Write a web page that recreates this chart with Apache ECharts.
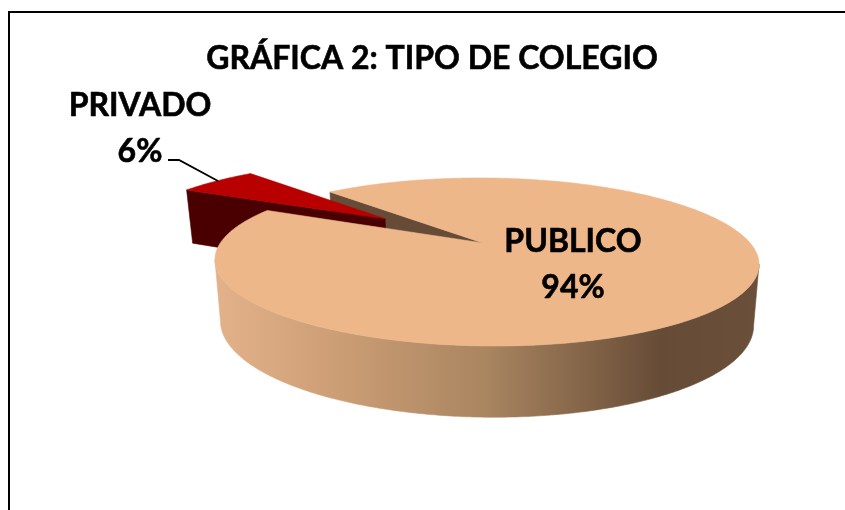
<!DOCTYPE html>
<html>
<head>
<meta charset="utf-8">
<style>html,body{margin:0;padding:0;background:#fff}#c{width:845px;height:510px}</style>
<script src="https://cdn.jsdelivr.net/npm/echarts@6/dist/echarts.min.js"></script>
</head>
<body>
<div id="c"></div>
<script>
const titleText = 'GRÁFICA 2: TIPO DE COLEGIO';
const categories = ['PUBLICO', 'PRIVADO'];
const values = [94, 6];

const FONT = 'Lato, Carlito, "Open Sans", sans-serif';
// Perspective look of the tilted disc
const view = { cx: 487, cy: 243, R: 265, k: 79.7, p: 0.226, shear: 0.009, startDeg: 226.4,
  explode: 0.515, apexShift: -4, depth0: 59, depthK: 41.8, shrink: 0.98,
  wallFrom: 13, wallTo: 167, sliceShift: [2, -1] };
const looks = {
  PUBLICO: { top: '#EEB789', cut: '#664B36', label: [573, 264.5] },
  PRIVADO: { top: '#B80000', cut: '#4A0000', label: [140, 128.5], leader: [[168, 160], [179, 160], [218, 181]] }
};
const sideStops = [
  [0, '#E3B28A'], [0.2, '#CFA077'], [0.5, '#A98560'], [0.82, '#664B36'], [1, '#6A4F3A']
];
const sideGradient = { type: 'linear', x: 215, y: 0, x2: 759, y2: 0, global: true,
  colorStops: sideStops.map(s => ({ offset: s[0], color: s[1] })) };

function project(u, v, lower) {
  const s = 1 / (1 - view.p * v);
  let xr = view.R * u * s;
  const yr = view.k * v * s;
  const y = view.cy + yr + view.shear * xr;
  if (lower) {
    xr *= view.shrink;
    return [view.cx + xr, y + view.depth0 + view.depthK * (s - 1)];
  }
  return [view.cx + xr, y];
}
function arcPts(a0, a1, off, lower) {
  const pts = [];
  const n = Math.max(2, Math.ceil(Math.abs(a1 - a0) * 1.5));
  for (let i = 0; i <= n; i++) {
    const a = (a0 + (a1 - a0) * i / n) * Math.PI / 180;
    pts.push(project(Math.cos(a) + off[0], Math.sin(a) + off[1], lower));
  }
  return pts;
}
const total = values.reduce((a, b) => a + b, 0);

function renderItem(params, api) {
  const idx = params.dataIndex;
  const name = categories[idx];
  const look = looks[name];
  const value = api.value(0);
  let before = 0;
  for (let i = 0; i < idx; i++) before += values[i];
  const a0 = view.startDeg + before / total * 360;
  const a1 = a0 + value / total * 360;
  const mid = (a0 + a1) / 2 * Math.PI / 180;
  const children = [];
  const poly = (points, fill, z2, pos) => children.push({ type: 'polygon', z2, silent: true,
    x: pos ? pos[0] : 0, y: pos ? pos[1] : 0,
    shape: { points }, style: { fill, stroke: fill, lineWidth: 0.6 } });

  if (idx === 0) {
    const apexTop = project(0, 0, false); apexTop[0] += view.apexShift;
    const apexLow = project(0, 0, true); apexLow[0] += view.apexShift;
    const st = arcPts(a0, a0, [0, 0], false)[0];
    const sb = arcPts(a0, a0, [0, 0], true)[0];
    poly([apexTop, st, sb, apexLow], look.cut, 1);
    // outer wall: only the part that faces the viewer
    const upper = arcPts(view.wallFrom, view.wallTo, [0, 0], false);
    const lower = arcPts(view.wallFrom, view.wallTo, [0, 0], true);
    poly(upper.concat(lower.reverse()), sideGradient, 5);
    const rim = arcPts(a0, a1, [0, 0], false);
    poly(rim.concat([apexTop]), look.top, 6);
  } else {
    const off = [Math.cos(mid) * view.explode, Math.sin(mid) * view.explode];
    const tipT = project(off[0], off[1], false);
    const tipB = project(off[0], off[1], true);
    const cT = arcPts(a0, a0, off, false)[0];
    const cB = arcPts(a0, a0, off, true)[0];
    poly([tipT, cT, cB, tipB], look.cut, 2, view.sliceShift);
    poly(arcPts(a0, a1, off, false).concat([tipT]), look.top, 3, view.sliceShift);
    children.push({ type: 'polyline', z2: 8, silent: true, shape: { points: look.leader },
      style: { stroke: '#000', lineWidth: 1.8, fill: null } });
  }
  children.push({ type: 'text', z2: 9, silent: true, style: {
    x: look.label[0], y: look.label[1],
    text: name + '\n' + Math.round(value / total * 100) + '%',
    fill: '#000', font: 'bold 32px ' + FONT, lineHeight: 46,
    stroke: '#000', lineWidth: 0.6,
    align: 'center', verticalAlign: 'middle' } });
  return { type: 'group', children };
}

const chart = echarts.init(document.getElementById('c'), null, { renderer: 'canvas' });
chart.setOption({
  animation: false,
  backgroundColor: '#ffffff',
  title: { text: titleText, left: 427, top: 38, textAlign: 'center',
    textStyle: { color: '#000', fontFamily: FONT, fontWeight: 'bold', fontSize: 32,
      textBorderColor: '#000', textBorderWidth: 0.6 } },
  graphic: [{ type: 'rect', silent: true, z: -1,
    shape: { x: 9, y: 12, width: 900, height: 600 },
    style: { fill: null, stroke: '#000', lineWidth: 2 } }],
  series: [{ type: 'custom', coordinateSystem: 'none', renderItem, clip: false,
    data: categories.map((n, i) => ({ name: n, value: [values[i]] })) }]
});
</script>
</body>
</html>
